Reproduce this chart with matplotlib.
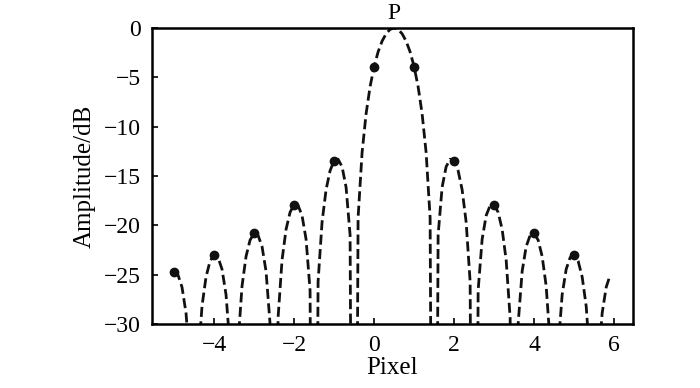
import numpy as np
import matplotlib
matplotlib.use("Agg")
import matplotlib.pyplot as plt

# Pixel positions of the sampled response (step 0.1)
pixel = np.round(np.arange(-5.0, 5.95, 0.1), 1)

# Amplitude (dB); nulls sit far below the axis
amplitude = [
    -24.75, -25.03, -26.27, -28.88, -34.30, -100.0, -33.95, -28.18, -25.23, -23.63,
    -23.01, -23.25, -24.45, -27.02, -32.40, -100.0, -31.97, -26.15, -23.15, -21.50,
    -20.82, -21.01, -22.15, -24.66, -29.97, -100.0, -29.39, -23.50, -20.41, -18.68,
    -17.90, -17.98, -19.02, -21.41, -26.59, -100.0, -25.72, -19.66, -16.39, -14.46,
    -13.46, -13.30, -14.06, -16.14, -20.97, -100.0, -19.23, -12.62, -8.69, -5.94,
    -3.92, -2.42, -1.33, -0.58, -0.14, 0.00, -0.14, -0.58, -1.33, -2.42,
    -3.92, -5.94, -8.69, -12.62, -19.23, -100.0, -20.97, -16.14, -14.06, -13.30,
    -13.46, -14.46, -16.39, -19.66, -25.72, -100.0, -26.59, -21.41, -19.02, -17.98,
    -17.90, -18.68, -20.41, -23.50, -29.39, -100.0, -29.97, -24.66, -22.15, -21.01,
    -20.82, -21.50, -23.15, -26.15, -31.97, -100.0, -32.40, -27.02, -24.45, -23.25,
    -23.01, -23.63, -25.23, -28.18, -33.95, -100.0, -34.30, -28.88, -26.27, -25.03,
]

# Sample points marked with dots (integer pixels)
dot_pixel = [-5, -4, -3, -2, -1, 0, 1, 2, 3, 4, 5]
dot_amplitude = [-24.75, -23.01, -20.82, -17.90, -13.46, -3.92, -3.92, -13.46, -17.90, -20.82, -23.01]

xticks = [-4, -2, 0, 2, 4, 6]
yticks = [0, -5, -10, -15, -20, -25, -30]

plt.rcParams["font.family"] = ["Liberation Serif", "DejaVu Serif"]
plt.rcParams["font.size"] = 17

fig = plt.figure(figsize=(7, 3.88), dpi=100)
ax = fig.add_axes([152 / 700, 1 - 324 / 388, 481 / 700, 296 / 388])

ax.plot(pixel, amplitude, color="#111111", lw=2.0, ls=(0, (3.6, 1.6)))
ax.plot(dot_pixel, dot_amplitude, "o", color="#111111", ms=6)

ax.set_xlim(-5.55, 6.47)
ax.set_ylim(-30, 0)
ax.set_xticks(xticks)
ax.set_yticks(yticks)
ax.tick_params(direction="in", length=4, width=1.2, pad=8)
for s in ax.spines.values():
    s.set_linewidth(1.8)

ax.set_xlabel("Pixel", fontsize=18, labelpad=1)
ax.set_ylabel("Amplitude/dB", fontsize=18, labelpad=6)
ax.text(0.5, 0.4, "P", ha="center", va="bottom", fontsize=17, clip_on=False)

fig.savefig("out.png", dpi=100)
